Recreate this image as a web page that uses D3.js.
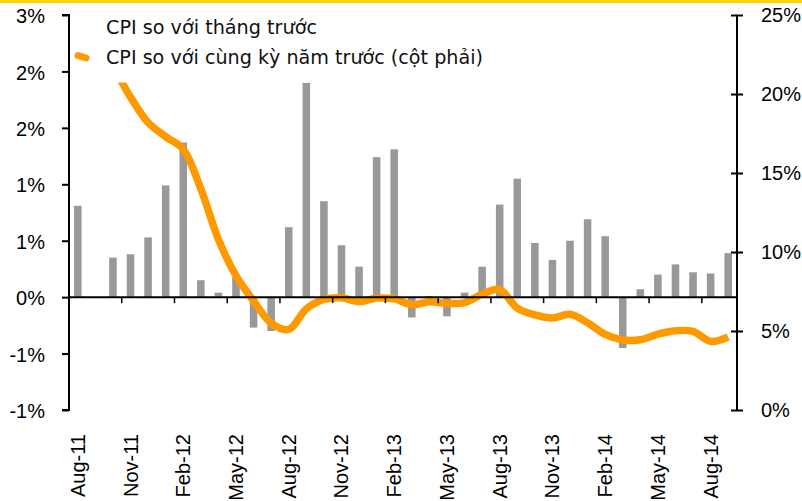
<!DOCTYPE html>
<html><head><meta charset="utf-8">
<script src="https://cdn.jsdelivr.net/npm/d3@7"></script>
<style>body{margin:0;background:#fff} svg{display:block}</style>
</head><body><svg id="c" width="802" height="501"></svg>
<script>
// ---- data ----
const months = ["Aug-11","Sep-11","Oct-11","Nov-11","Dec-11","Jan-12","Feb-12","Mar-12","Apr-12","May-12","Jun-12","Jul-12",
  "Aug-12","Sep-12","Oct-12","Nov-12","Dec-12","Jan-13","Feb-13","Mar-13","Apr-13","May-13","Jun-13","Jul-13",
  "Aug-13","Sep-13","Oct-13","Nov-13","Dec-13","Jan-14","Feb-14","Mar-14","Apr-14","May-14","Jun-14","Jul-14","Aug-14","Sep-14"];
// CPI vs previous month (%), left axis
const momValues = [0.81, null, 0.35, 0.38, 0.53, 0.99, 1.37, 0.15, 0.04, 0.18, -0.27, -0.30,
  0.62, 1.90, 0.85, 0.46, 0.27, 1.24, 1.31, -0.18, 0.01, -0.17, 0.04, 0.27,
  0.82, 1.05, 0.48, 0.33, 0.50, 0.69, 0.54, -0.45, 0.07, 0.20, 0.29, 0.22, 0.21, 0.39];
// CPI vs same period last year (%), right axis
const yoyValues = [23.0, 22.4, 21.6, 19.8, 18.2, 17.3, 16.5, 14.0, 10.8, 8.5, 6.9, 5.5,
  5.1, 6.4, 7.0, 7.1, 6.85, 7.08, 7.03, 6.66, 6.85, 6.74, 6.8, 7.32,
  7.62, 6.45, 6.02, 5.82, 6.06, 5.52, 4.78, 4.43, 4.45, 4.8, 5.02, 4.97, 4.34, 4.62];
const leftTicks = [-1, -0.5, 0, 0.5, 1, 1.5, 2, 2.5];
const leftTickLabels = ["-1%","-1%","0%","1%","1%","2%","2%","3%"];
const rightTicks = [0, 5, 10, 15, 20, 25];
const rightTickLabels = ["0%","5%","10%","15%","20%","25%"];
const xLabelMonths = months.filter((d, i) => i % 3 === 0);
const seriesNames = ["CPI so với tháng trước", "CPI so với cùng kỳ năm trước (cột phải)"];

// ---- layout ----
const svg = d3.select("#c");
const L = 69, R = 737, T = 15, B = 410;
const x = d3.scaleBand().domain(months).range([L, R]).paddingInner(0.57).paddingOuter(0.285);
const yL = d3.scaleLinear().domain([-1, 2.5]).range([B, T]);
const yR = d3.scaleLinear().domain([0, 25]).range([B, T]);
const tickFont = "'Liberation Sans', Arial, sans-serif";

svg.append("rect").attr("x", 0).attr("y", 0).attr("width", 802).attr("height", 3).attr("fill", "#FFD200");

// bars
svg.append("g").selectAll("rect").data(months.map((m, i) => ({m, v: momValues[i]})).filter(d => d.v !== null))
  .join("rect")
  .attr("x", d => x(d.m))
  .attr("width", x.bandwidth())
  .attr("y", d => Math.min(yL(d.v), yL(0)))
  .attr("height", d => Math.abs(yL(d.v) - yL(0)))
  .attr("fill", "#999999");

// line
const line = d3.line()
  .x((d, i) => x(months[i]) + x.bandwidth() / 2)
  .y(d => yR(d))
  .curve(d3.curveCatmullRom.alpha(0.5));
svg.append("path").datum(yoyValues).attr("d", line)
  .attr("fill", "none").attr("stroke", "#FF9900").attr("stroke-width", 7.5)
  .attr("stroke-linejoin", "round").attr("stroke-linecap", "butt");

// legend (white box hides the top of the line)
const lg = svg.append("g");
lg.append("rect").attr("x", 72).attr("y", 5).attr("width", 430).attr("height", 77.5).attr("fill", "#fff");
lg.append("path").attr("d", "M78,55.5 L86,58").attr("stroke", "#FF9900").attr("stroke-width", 7).attr("stroke-linecap", "round");
const legendWidths = [211, 377];
lg.selectAll("text").data(seriesNames).join("text")
  .attr("x", 106).attr("y", (d, i) => 34 + i * 29.5)
  .attr("font-family", "'DejaVu Sans', sans-serif").attr("font-size", 19.2).attr("fill", "#111")
  .attr("textLength", (d, i) => legendWidths[i]).attr("lengthAdjust", "spacingAndGlyphs")
  .text(d => d);

// left axis
const axL = d3.axisLeft(yL).tickValues(leftTicks).tickSize(7).tickPadding(17)
  .tickFormat((d, i) => leftTickLabels[i]);
const gL = svg.append("g").attr("transform", `translate(${L},0)`).call(axL);
gL.select(".domain").attr("d", `M-7,${T}H0V${B}H-7`).attr("stroke", "#000").attr("stroke-width", 2);
gL.selectAll(".tick line").attr("stroke", "#000").attr("stroke-width", 2);
gL.selectAll(".tick text").attr("font-family", tickFont).attr("font-size", 20).attr("fill", "#000").attr("dy", "0.38em");

// right axis (ticks cross the axis line)
const axR = d3.axisRight(yR).tickValues(rightTicks).tickSize(0).tickPadding(24)
  .tickFormat((d, i) => rightTickLabels[i]);
const gR = svg.append("g").attr("transform", `translate(${R},0)`).call(axR);
gR.select(".domain").attr("d", `M0,${T}V${B}`).attr("stroke", "#000").attr("stroke-width", 2);
gR.selectAll(".tick line").attr("x1", -6).attr("x2", 6).attr("stroke", "#000").attr("stroke-width", 2);
gR.selectAll(".tick text").attr("font-family", tickFont).attr("font-size", 20).attr("fill", "#000");

// x axis at zero
const gX = svg.append("g");
gX.append("line").attr("x1", L).attr("x2", R).attr("y1", yL(0)).attr("y2", yL(0)).attr("stroke", "#000").attr("stroke-width", 2);
gX.selectAll("line.tk").data(months.filter((d, i) => i > 0 && i % 3 === 0)).join("line").attr("class", "tk")
  .attr("x1", d => x(d) - x.step() * x.paddingInner() / 2).attr("x2", d => x(d) - x.step() * x.paddingInner() / 2)
  .attr("y1", yL(0)).attr("y2", yL(0) + 6).attr("stroke", "#000").attr("stroke-width", 1.5);
gX.selectAll("text").data(xLabelMonths).join("text")
  .attr("transform", d => `translate(${x(d) + x.bandwidth() / 2 + 7},434) rotate(-90)`)
  .attr("text-anchor", "end")
  .attr("font-family", tickFont).attr("font-size", 20).attr("fill", "#000")
  .text(d => d);
</script></body></html>
